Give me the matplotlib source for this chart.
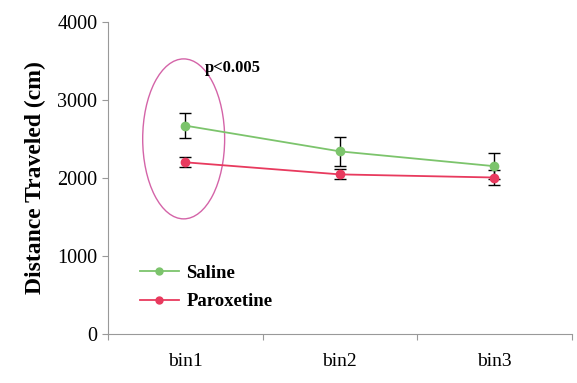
import matplotlib
matplotlib.use("Agg")
from matplotlib import pyplot as plt
from matplotlib.patches import Ellipse
from matplotlib.lines import Line2D

bins = ["bin1", "bin2", "bin3"]
saline = [2670, 2340, 2150]
saline_err = [160, 190, 165]
paroxetine = [2200, 2045, 2005]
paroxetine_err = [65, 65, 100]

plt.rcParams['font.family'] = ['Liberation Serif', 'DejaVu Serif']

fig = plt.figure(figsize=(5.77, 3.83), dpi=100)
ax = fig.add_axes([0.187, 0.128, 0.804, 0.815])

x = [i + 0.5 for i in range(len(bins))]
green = '#7cc46c'
red = '#e83a5e'

ax.errorbar(x, saline, yerr=saline_err, color=green, marker='o', markersize=6,
            lw=1.3, ecolor='black', elinewidth=1, capsize=4)
ax.errorbar(x, paroxetine, yerr=paroxetine_err, color=red, marker='o', markersize=6,
            lw=1.3, ecolor='black', elinewidth=1, capsize=4)

ax.add_patch(Ellipse((0.49, 2500), 0.53, 2050, fill=False, edgecolor='#d464a8', lw=1))
ax.text(0.63, 3410, 'p<0.005', fontsize=12, fontweight='bold', va='center')

ax.set_xlim(0, 3)
ax.set_ylim(0, 4000)
ax.set_yticks([0, 1000, 2000, 3000, 4000])
ax.set_xticks([0, 1, 2, 3])
ax.set_xticklabels([])
ax.set_xticks(x, minor=True)
ax.set_xticklabels(bins, minor=True)
ax.tick_params(axis='x', which='minor', length=0, pad=14, labelsize=14)
ax.tick_params(axis='x', which='major', length=4, color='#999999')
ax.tick_params(axis='y', length=4, color='#999999', labelsize=14.5)

ax.set_ylabel('Distance Traveled (cm)', fontsize=17, fontweight='bold', labelpad=8)

for s in ['top', 'right']:
    ax.spines[s].set_visible(False)
for s in ['left', 'bottom']:
    ax.spines[s].set_color('#999999')

handles = [Line2D([], [], color=green, marker='o', markersize=5, lw=1.3),
           Line2D([], [], color=red, marker='o', markersize=5, lw=1.3)]
ax.legend(handles, ['Saline', 'Paroxetine'], loc='lower left',
          bbox_to_anchor=(0.032, 0.022), frameon=False,
          prop={'weight': 'bold', 'size': 13.5}, handlelength=2.1,
          handletextpad=0.4, labelspacing=0.6)

fig.savefig('out.png', dpi=100)
